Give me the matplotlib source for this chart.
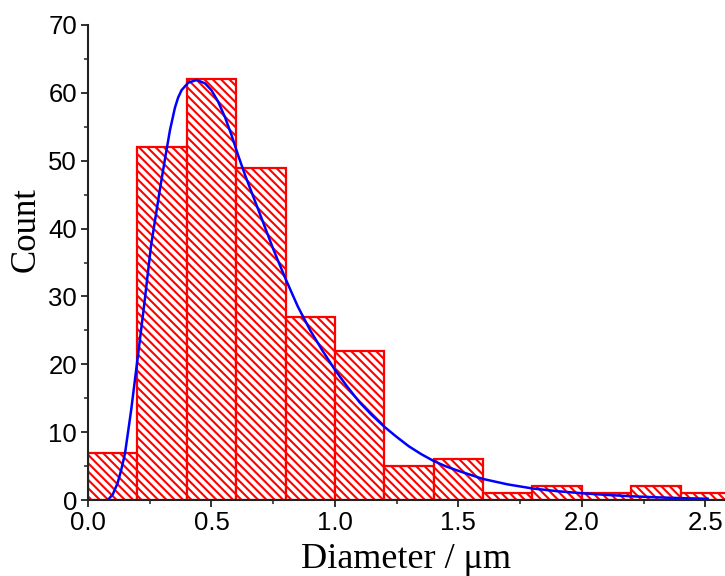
import matplotlib.pyplot as plt
from matplotlib.ticker import MultipleLocator

plt.rcParams['hatch.linewidth'] = 1.5
plt.rcParams['hatch.color'] = 'red'

# histogram bins (left edges, width 0.2 um) and counts
bin_left = [0.0, 0.2, 0.4, 0.6, 0.8, 1.0, 1.2, 1.4, 1.6, 1.8, 2.0, 2.2, 2.4]
counts = [7, 52, 62, 49, 27, 22, 5, 6, 1, 2, 1, 2, 1]

# fitted curve
fit_x = [0.08, 0.10, 0.12, 0.135, 0.15, 0.175, 0.20, 0.23, 0.255, 0.29,
         0.312, 0.332, 0.352, 0.365, 0.379, 0.406, 0.44, 0.474, 0.50, 0.527,
         0.555, 0.582, 0.608, 0.636, 0.66, 0.70, 0.75, 0.80, 0.85, 0.90,
         0.95, 1.00, 1.05, 1.10, 1.15, 1.20, 1.25, 1.30, 1.35, 1.40,
         1.45, 1.50, 1.60, 1.70, 1.80, 1.90, 2.00, 2.10, 2.20, 2.30,
         2.40, 2.51]
fit_y = [0.0, 0.8, 2.5, 4.5, 6.9, 13.3, 20.6, 29.5, 37.4, 45.5,
         50.3, 54.5, 57.8, 59.3, 60.4, 61.5, 61.9, 61.4, 60.4, 58.7,
         56.4, 53.7, 50.8, 47.9, 45.6, 41.8, 37.0, 32.6, 28.5, 25.0,
         22.0, 19.2, 16.7, 14.4, 12.5, 10.8, 9.3, 7.9, 6.75, 5.75,
         4.95, 4.3, 3.1, 2.3, 1.7, 1.3, 1.0, 0.75, 0.55, 0.4,
         0.28, 0.18]

fig = plt.figure(figsize=(7.25, 5.76), dpi=100)
ax = fig.add_axes([88 / 725, 76 / 576, 637 / 725, 475 / 576])

ax.bar(bin_left, counts, width=0.2, align='edge', facecolor='white',
       edgecolor='red', hatch='\\\\\\\\', linewidth=1.6)
ax.plot(fit_x, fit_y, color='blue', linewidth=1.8, solid_joinstyle='round')

ax.set_xlim(0, 2.58)
ax.set_ylim(0, 70)
ax.xaxis.set_major_locator(MultipleLocator(0.5))
ax.xaxis.set_minor_locator(MultipleLocator(0.25))
ax.yaxis.set_major_locator(MultipleLocator(10))
ax.yaxis.set_minor_locator(MultipleLocator(5))
ax.xaxis.set_major_formatter(plt.FormatStrFormatter('%.1f'))

for s in ['top', 'right']:
    ax.spines[s].set_visible(False)
for s in ['left', 'bottom']:
    ax.spines[s].set_linewidth(1.5)
    ax.spines[s].set_color('#222222')
    ax.spines[s].set_zorder(5)

ax.tick_params(which='major', direction='out', length=5, width=1.3,
               labelsize=18.5, pad=3, color='#222222')
ax.tick_params(which='minor', direction='out', length=3, width=1.1,
               color='#222222')
for lab in ax.get_xticklabels() + ax.get_yticklabels():
    lab.set_fontfamily('Liberation Sans')

ax.set_xlabel('Diameter / \u03bcm', fontsize=26, family='Liberation Serif')
ax.set_ylabel('Count', fontsize=25, family='Liberation Serif')
ax.xaxis.set_label_coords(0.5, -0.09)
ax.yaxis.set_label_coords(-0.072, 0.57)

fig.savefig('out.png', dpi=100)
